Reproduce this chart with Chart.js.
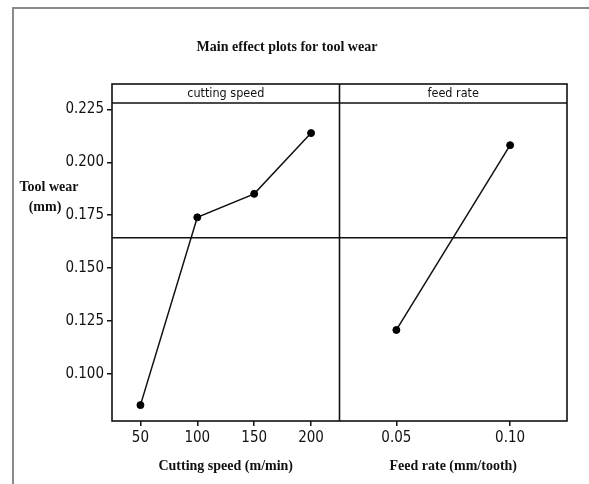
<!DOCTYPE html>
<html lang="en">
<head>
  <meta charset="UTF-8">
  <title>Main effect plots for tool wear</title>
  <script src="https://cdn.jsdelivr.net/npm/chart.js"></script>
  <style>
    body { margin: 0; background: #fff; }
    #wrap { position: relative; width: 589px; height: 484px; }
  </style>
</head>
<body>
  <div id="wrap"><canvas id="chart" width="589" height="484"></canvas></div>

  <script>
    // data
    const speedLevels = ['50', '100', '150', '200'];
    const speedWear = [0.0853, 0.1740, 0.1851, 0.2138];
    const feedLevels = ['0.05', '0.10'];
    const feedWear = [0.1208, 0.2081];
    const grandMean = 0.1644;
    const yTicks = [0.100, 0.125, 0.150, 0.175, 0.200, 0.225];
    const panelNames = ['cutting speed', 'feed rate'];

    const tickFont = { family: "'Liberation Sans Narrow', 'DejaVu Sans Condensed', 'Liberation Sans'", size: 15 };
    const serifBold = "bold 14px 'Liberation Serif', 'Times New Roman', serif";

    // frame, header strip, mean line and the free-standing labels
    const decor = {
      id: 'decor',
      beforeDraw(chart) {
        const ctx = chart.ctx;
        ctx.save();
        ctx.strokeStyle = '#8a8a8a';
        ctx.lineWidth = 2;
        ctx.beginPath();
        ctx.moveTo(13, 484);
        ctx.lineTo(13, 8);
        ctx.lineTo(589, 8);
        ctx.stroke();
        ctx.restore();
      },
      afterDatasetsDraw(chart) {
        const ctx = chart.ctx;
        const a = chart.chartArea;
        const s = chart.scales;
        const mid = s.x.right;
        const headBottom = a.top + 19;
        ctx.save();
        ctx.strokeStyle = '#111';
        ctx.lineWidth = 1.6;
        ctx.strokeRect(a.left, a.top, a.right - a.left, a.bottom - a.top);
        ctx.beginPath();
        ctx.moveTo(mid, a.top);
        ctx.lineTo(mid, a.bottom);
        ctx.moveTo(a.left, headBottom);
        ctx.lineTo(a.right, headBottom);
        const my = s.y.getPixelForValue(grandMean);
        ctx.moveTo(a.left, my);
        ctx.lineTo(a.right, my);
        ctx.stroke();

        ctx.fillStyle = '#111';
        ctx.textAlign = 'center';
        ctx.textBaseline = 'middle';
        ctx.font = "12.5px 'Liberation Sans Narrow', 'DejaVu Sans Condensed', 'Liberation Sans'";
        ctx.fillText(panelNames[0], (s.x.left + s.x.right) / 2, a.top + 10);
        ctx.fillText(panelNames[1], (s.x2.left + s.x2.right) / 2, a.top + 10);

        ctx.font = serifBold;
        ctx.fillText('Main effect plots for tool wear', 287, 47);
        ctx.fillText('Tool wear', 49, 187);
        ctx.fillText('(mm)', 45, 207);
        ctx.restore();
      }
    };

    const xScale = (labels, title) => ({
      type: 'category',
      labels: labels,
      position: 'bottom',
      stack: 'panels',
      stackWeight: 1,
      offset: true,
      grid: { drawOnChartArea: false, tickLength: 5, color: '#111', lineWidth: 1.5, offset: false },
      border: { display: false },
      ticks: { color: '#111', font: tickFont, padding: 3, maxRotation: 0 },
      title: {
        display: true,
        text: title,
        color: '#111',
        font: { family: "'Liberation Serif', 'Times New Roman', serif", size: 14, weight: 'bold' },
        padding: { top: 0, bottom: 9 }
      },
      afterFit: s => { s.height = 63; }
    });

    new Chart(document.getElementById('chart'), {
      type: 'line',
      data: {
        datasets: [
          { data: speedWear, xAxisID: 'x', yAxisID: 'y' },
          { data: feedWear, xAxisID: 'x2', yAxisID: 'y' }
        ]
      },
      options: {
        responsive: false,
        animation: false,
        devicePixelRatio: 1,
        layout: { padding: { left: 0, top: 84, right: 22, bottom: 0 } },
        elements: {
          line: { borderColor: '#111', borderWidth: 1.5, tension: 0 },
          point: { radius: 3.5, backgroundColor: '#000', borderColor: '#000', borderWidth: 1 }
        },
        plugins: { legend: { display: false }, tooltip: { enabled: false } },
        scales: {
          x: xScale(speedLevels, 'Cutting speed (m/min)'),
          x2: xScale(feedLevels, 'Feed rate (mm/tooth)'),
          y: {
            type: 'linear',
            position: 'left',
            min: 0.0778,
            max: 0.2370,
            grid: { drawOnChartArea: false, tickLength: 5, color: '#111', lineWidth: 1.5 },
            border: { display: false },
            ticks: {
              color: '#111',
              font: tickFont,
              padding: 3,
              callback: v => v.toFixed(3)
            },
            afterBuildTicks: s => { s.ticks = yTicks.map(v => ({ value: v })); },
            afterFit: s => { s.width = 112; }
          }
        }
      },
      plugins: [decor]
    });
  </script>
</body>
</html>
